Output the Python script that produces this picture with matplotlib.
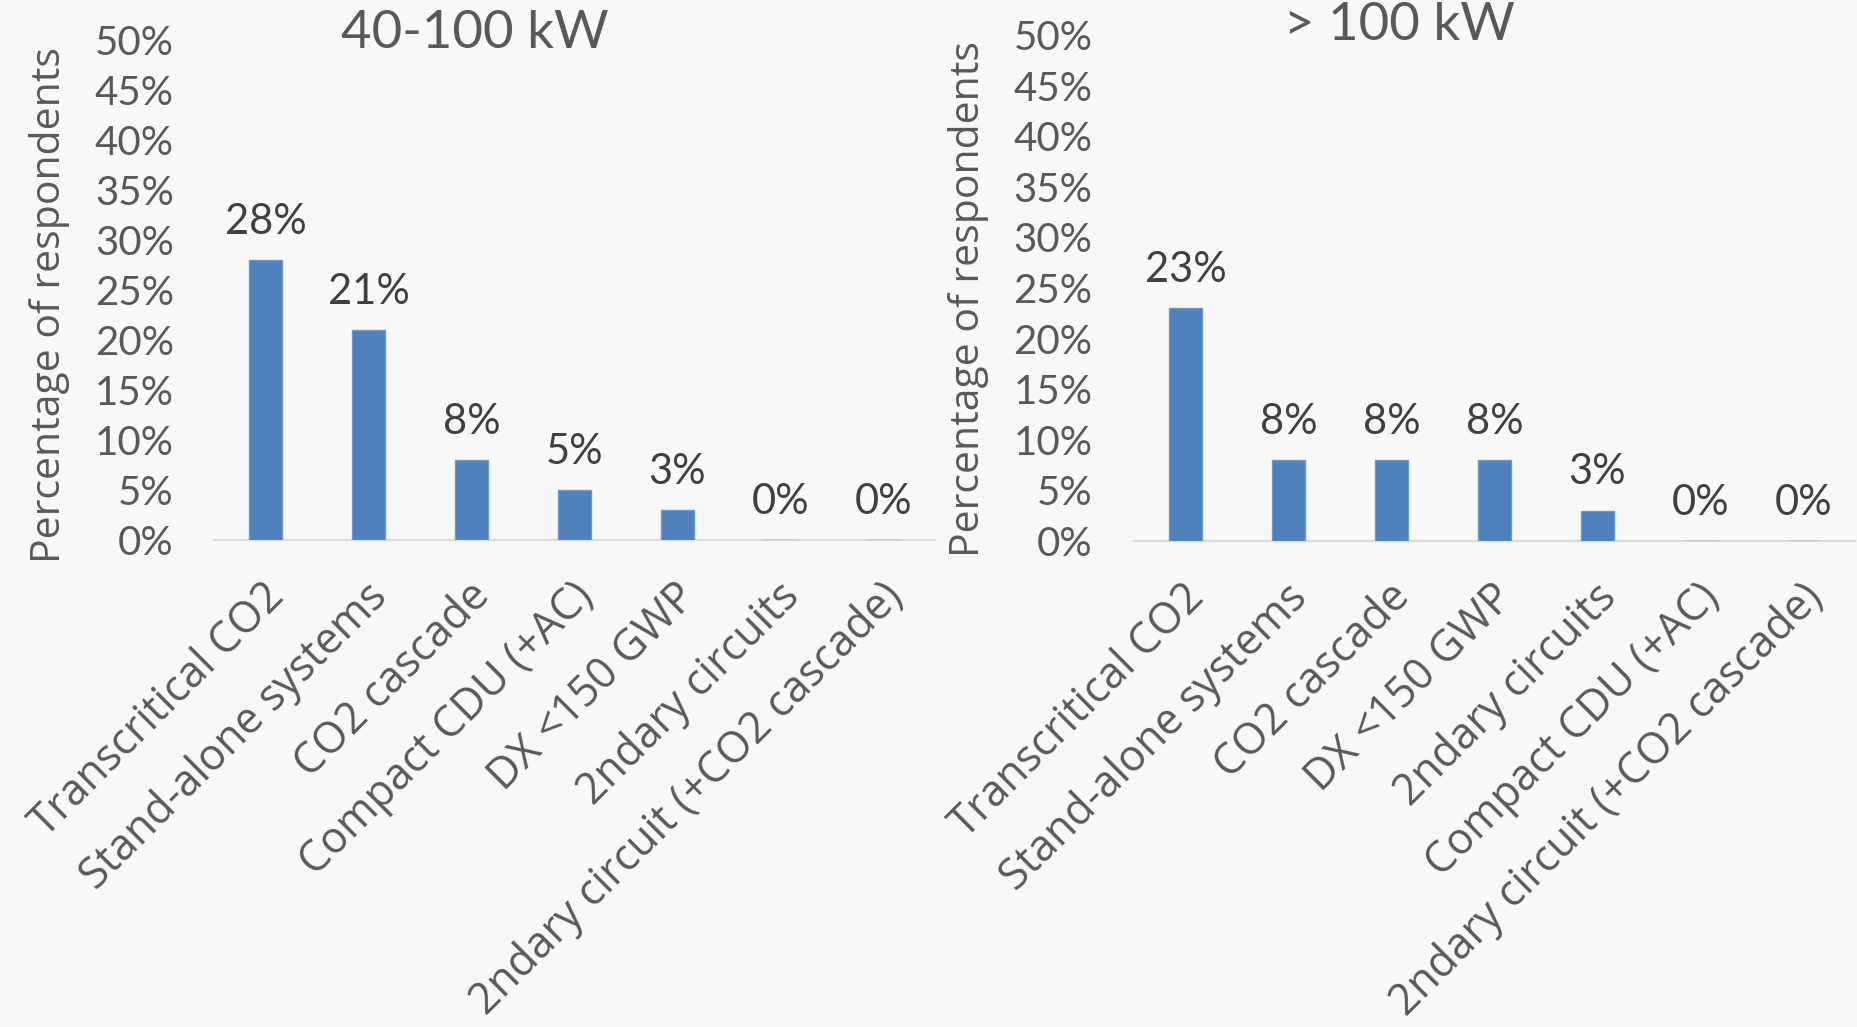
import matplotlib.pyplot as plt
from matplotlib.ticker import FuncFormatter

# survey shares (% of respondents) per system type
cats_mid = ["Transcritical CO2", "Stand-alone systems", "CO2 cascade",
            "Compact CDU (+AC)", "DX <150 GWP", "2ndary circuits",
            "2ndary circuit (+CO2 cascade)"]
vals_mid = [28, 21, 8, 5, 3, 0, 0]

cats_big = ["Transcritical CO2", "Stand-alone systems", "CO2 cascade",
            "DX <150 GWP", "2ndary circuits", "Compact CDU (+AC)",
            "2ndary circuit (+CO2 cascade)"]
vals_big = [23, 8, 8, 8, 3, 0, 0]

BG = "#F8F8F8"
BAR = "#4F81BD"
GREY = "#595959"
DARK = "#404040"
NUM_FONT = "Lato"
TXT_FONT = "Open Sans"

fig = plt.figure(figsize=(18.58, 10.27), dpi=100, facecolor=BG)


def panel(rect, cats, vals, title, title_xy, ylabel_xy, tick_pad):
    ax = fig.add_axes(rect)
    ax.set_facecolor(BG)
    x = range(len(cats))
    bars = ax.bar(x, vals, width=0.32, color=BAR, edgecolor="#6F98CB", linewidth=1, zorder=3)
    ax.bar_label(bars, labels=[f"{v}%" for v in vals], padding=14,
                 fontsize=30, color=DARK, family=NUM_FONT)
    ax.set_xlim(-0.5, len(cats) - 0.5)
    ax.set_ylim(0, 50)
    ax.set_yticks(range(0, 51, 5))
    ax.yaxis.set_major_formatter(FuncFormatter(lambda v, p: f"{v:.0f}%"))
    ax.tick_params(axis="y", length=0, pad=tick_pad, labelsize=29, labelcolor=GREY)
    for t in ax.get_yticklabels():
        t.set_family(NUM_FONT)
    ax.set_xticks([])
    for s in ["top", "right", "left"]:
        ax.spines[s].set_visible(False)
    ax.spines["bottom"].set_color("#D9D9D9")
    ax.spines["bottom"].set_linewidth(1.6)
    ax.spines["bottom"].set_zorder(2)

    # slanted category names hanging under each bar
    for i, c in enumerate(cats):
        ax.annotate(c, xy=(i, 0), xytext=(9, -36), textcoords="offset points",
                    rotation=45, ha="right", va="center", rotation_mode="anchor",
                    fontsize=31, color=GREY, family=TXT_FONT, annotation_clip=False)

    fig.text(title_xy[0] / 1858, 1 - title_xy[1] / 1027, title, ha="center", va="center",
             fontsize=38, color=GREY, family=NUM_FONT)
    fig.text(ylabel_xy[0] / 1858, 1 - ylabel_xy[1] / 1027, "Percentage of respondents",
             rotation=90, ha="center", va="center", fontsize=29.5, color=GREY, family=TXT_FONT)
    return ax


panel([214 / 1858, 487 / 1027, 721 / 1858, 500 / 1027], cats_mid, vals_mid,
      "40-100 kW", (475, 33), (50, 305), 29)
panel([1134 / 1858, 486 / 1027, 721 / 1858, 506 / 1027], cats_big, vals_big,
      "> 100 kW", (1399, 26), (969, 299), 30)

fig.savefig("out.png", dpi=100, facecolor=BG)
